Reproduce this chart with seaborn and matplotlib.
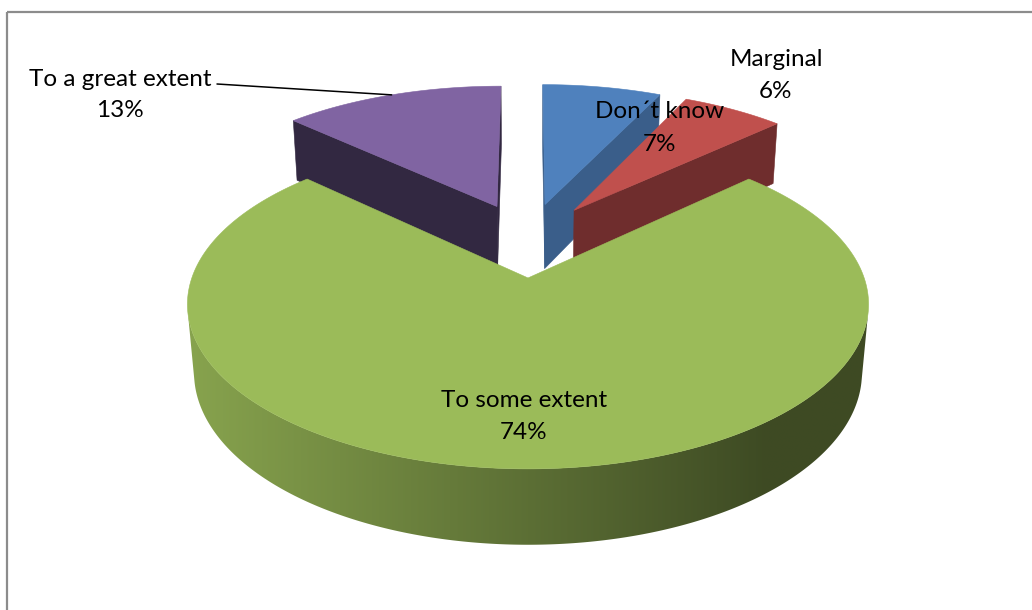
import numpy as np
import matplotlib
matplotlib.use("Agg")
import matplotlib.pyplot as plt
from matplotlib.patches import Polygon, Rectangle
import seaborn as sns

# ---------------- data ----------------
categories = ["Don\u00b4t know", "Marginal", "To some extent", "To a great extent"]
values = [7, 6, 74, 13]

# ---------------- style ----------------
top_colors = ["#4F81BD", "#C0504D", "#9BBB59", "#8064A2"]
radial_colors = ["#3A5E8A", "#6F2D2D", "#5F7536", "#322841"]

sns.set_theme(style="white")
plt.rcParams["font.family"] = ["Lato", "DejaVu Sans"]

# 3D projection parameters (pixel space)
PHI = np.deg2rad(27.3)
S, C = np.sin(PHI), np.cos(PHI)
DIST = 5.77
FOC = 1865.0
CX, CY = 528.0, 239.4
EXPLODE = 0.25
HEIGHT = 0.233
CAM = np.array([0.0, -DIST * C, DIST * S])


def proj(x, y, z):
    d = DIST + y * C - z * S
    v = y * S + z * C
    return CX + FOC * x / d, CY - FOC * v / d


fig = plt.figure(figsize=(10.32, 6.10), dpi=100)
ax = fig.add_axes([0, 0, 1, 1])
ax.set_xlim(0, 1032)
ax.set_ylim(610, 0)
ax.axis("off")

# chart border
ax.add_patch(Rectangle((7, 12), 1200, 800, fill=False, edgecolor="#8C8C8C", lw=1.6, zorder=0))

total = float(sum(values))
bounds = np.concatenate([[0.0], np.cumsum(np.array(values) / total) * 360.0])

slices = []
for i in range(len(values)):
    t0, t1 = np.deg2rad(bounds[i]), np.deg2rad(bounds[i + 1])
    mid = 0.5 * (t0 + t1)
    off = np.array([EXPLODE * np.sin(mid), EXPLODE * np.cos(mid)])
    slices.append((i, t0, t1, mid, off))

# back to front
order = sorted(slices, key=lambda s: -s[4][1])


def wall_rgb(i, xw):
    base = np.array(matplotlib.colors.to_rgb(top_colors[i]))
    t = np.clip((xw + 1.0) / 1.7, 0, 1)
    f = 0.87 - 0.47 * t
    return np.clip(base * f, 0, 1)


z = 1
for (i, t0, t1, mid, off) in order:
    ox, oy = off
    n = max(int(np.rad2deg(t1 - t0) / 0.5) + 2, 6)
    ts = np.linspace(t0, t1, n)
    # radial faces
    for t, sign in ((t0, -1), (t1, 1)):
        if sign < 0:
            nrm = np.array([-np.cos(t), np.sin(t), 0.0])
        else:
            nrm = np.array([np.cos(t), -np.sin(t), 0.0])
        P = np.array([ox, oy, 0.0])
        if np.dot(nrm, CAM - P) > 0:
            rx, ry = ox + np.sin(t), oy + np.cos(t)
            pts = [proj(ox, oy, 0), proj(rx, ry, 0), proj(rx, ry, -HEIGHT), proj(ox, oy, -HEIGHT)]
            ax.add_patch(Polygon(pts, closed=True, facecolor=radial_colors[i],
                                 edgecolor=radial_colors[i], lw=0.4, zorder=z))
    z += 1
    # outer wall: visible part as one polygon filled with a horizontal gradient
    vis = []
    for t in ts:
        nrm = np.array([np.sin(t), np.cos(t), 0.0])
        P = np.array([ox + np.sin(t), oy + np.cos(t), 0.0])
        vis.append(np.dot(nrm, CAM - P) > 0)
    vis = np.array(vis)
    if vis.sum() >= 2:
        tv = ts[vis]
        top = [proj(ox + np.sin(t), oy + np.cos(t), 0) for t in tv]
        bot = [proj(ox + np.sin(t), oy + np.cos(t), -HEIGHT) for t in tv[::-1]]
        poly = Polygon(top + bot, closed=True, facecolor="none", edgecolor="none", zorder=z)
        ax.add_patch(poly)
        xs = np.array([p[0] for p in top + bot])
        ys = np.array([p[1] for p in top + bot])
        x0, x1 = xs.min() - 2, xs.max() + 2
        cols = np.linspace(x0, x1, 600)
        xw = (cols - CX) / (FOC / (DIST - EXPLODE * C))
        grad = np.array([wall_rgb(i, v) for v in xw])[None, :, :]
        im = ax.imshow(grad, extent=(x0, x1, ys.max() + 2, ys.min() - 2), aspect="auto",
                       interpolation="bilinear", zorder=z)
        im.set_clip_path(poly)
    z += 1
    # top face
    pts = [proj(ox, oy, 0)] + [proj(ox + np.sin(t), oy + np.cos(t), 0) for t in ts]
    ax.add_patch(Polygon(pts, closed=True, facecolor=top_colors[i], edgecolor=top_colors[i],
                         lw=0.4, zorder=z))
    z += 1

ax.set_xlim(0, 1032)
ax.set_ylim(610, 0)

# labels: (x centre, baseline line1, baseline line2)
label_layout = {0: (660, 118, 151), 1: (776, 66, 98), 2: (524, 407, 439), 3: (120, 86, 117)}
FS = 17.5
for i, name in enumerate(categories):
    x, b1, b2 = label_layout[i]
    pct = f"{values[i] / total * 100:.0f}%"
    ax.text(x, b1, name, ha="center", va="baseline", fontsize=FS, color="black", zorder=100)
    ax.text(x, b2, pct, ha="center", va="baseline", fontsize=FS, color="black", zorder=100)

# leader line for the purple slice
i, t0, t1, mid, off = slices[3]
ex, ey = proj(off[0] + np.sin(mid), off[1] + np.cos(mid), 0)
ax.plot([217, ex], [84, ey], color="black", lw=1.1, zorder=101)

fig.savefig("out.png", dpi=100)
